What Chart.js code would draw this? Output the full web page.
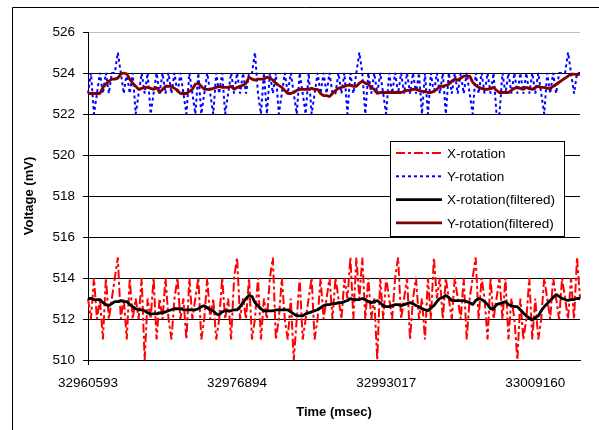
<!DOCTYPE html>
<html>
<head>
<meta charset="utf-8">
<script src="https://cdn.jsdelivr.net/npm/chart.js@4.4.1/dist/chart.umd.min.js"></script>
<style>
  html, body { margin: 0; padding: 0; background: #fff; }
  #wrap { width: 599px; height: 430px; }
</style>
</head>
<body>
<div id="wrap"><canvas id="myChart" width="599" height="430"></canvas></div>
<script>
// tick labels of the time axis (one every 50 samples)
const timeTicks = ['32960593', '32976894', '32993017', '33009160'];
const tickStep = 50;

// raw sensor readings (mV)
const xRotation = [
  513,512,514,512,513,511,514,512,513,514,
  515,512,513,511,514,512,513,512,514,510,
  513,512,514,511,513,512,514,512,511,513,
  514,512,513,511,514,512,513,514,511,512,
  514,512,513,511,512,514,512,513,511,514,
  515,512,513,512,514,511,512,514,511,513,
  512,514,515,511,512,514,512,511,513,510,
  512,514,511,512,513,514,511,512,514,512,
  513,514,512,514,513,512,514,513,515,512,
  515,513,515,512,514,512,513,510,514,512,
  514,513,512,514,515,512,513,514,511,513,
  514,512,513,511,514,512,515,513,514,512,
  514,513,512,514,513,512,514,511,513,514,
  515,512,514,513,511,514,512,513,514,512,
  514,511,513,512,510,513,511,512,514,511,
  513,511,512,514,513,512,514,513,512,514,
  513,512,514,512,515,513
];
const yRotation = [
  523,524,522,523,524,523,524,523,524,524,
  525,524,523,524,523,524,522,523,524,523,
  524,522,523,524,523,524,523,524,523,524,
  523,524,523,522,524,523,522,524,522,523,
  524,523,522,524,523,524,522,523,524,523,
  524,523,524,523,524,524,525,523,522,524,
  522,524,523,524,522,523,524,523,524,523,
  522,524,523,522,524,522,523,524,523,524,
  523,524,523,523,524,523,524,522,524,523,
  524,525,524,522,524,523,524,523,524,523,
  522,524,523,524,523,524,523,524,523,524,
  523,524,522,524,522,524,523,524,523,524,
  522,524,523,524,523,524,523,524,523,522,
  524,523,524,523,524,523,524,522,522,524,
  523,524,523,524,523,524,523,524,523,524,
  523,524,523,522,524,523,524,523,524,524,
  524,525,524,523,524,524
];
// filtered readings (mV)
const xFiltered = [
  513.0,513.0,512.95,512.95,512.95,512.8,512.7,512.65,512.75,512.85,
  512.85,512.9,512.85,512.85,512.7,512.6,512.5,512.45,512.45,512.4,
  512.3,512.25,512.25,512.25,512.3,512.3,512.35,512.4,512.45,512.5,
  512.5,512.5,512.45,512.45,512.45,512.45,512.45,512.5,512.6,512.65,
  512.55,512.45,512.4,512.25,512.2,512.35,512.4,512.4,512.4,512.45,
  512.45,512.6,512.8,513.0,513.15,513.1,512.8,512.65,512.5,512.4,
  512.4,512.4,512.4,512.45,512.45,512.45,512.45,512.45,512.35,512.25,
  512.15,512.15,512.15,512.25,512.3,512.35,512.4,512.45,512.55,512.65,
  512.7,512.7,512.75,512.75,512.8,512.8,512.85,512.9,513.0,512.95,
  512.95,512.95,513.0,512.95,512.85,512.8,512.85,512.9,512.8,512.65,
  512.6,512.6,512.65,512.7,512.7,512.65,512.7,512.75,512.8,512.75,
  512.65,512.6,512.5,512.45,512.4,512.55,512.65,512.85,513.0,513.05,
  513.15,513.05,512.9,512.9,512.9,512.9,512.9,512.85,512.8,512.7,
  512.9,513.0,512.95,512.85,512.7,512.5,512.5,512.7,512.75,512.8,
  512.85,512.7,512.65,512.6,512.6,512.45,512.3,512.15,512.05,511.95,
  512.05,512.15,512.4,512.6,512.75,512.9,513.05,513.2,513.1,513.0,
  512.95,512.9,512.95,512.95,513.0,513.0
];
const yFiltered = [
  523.0,523.0,523.0,523.0,523.0,523.3,523.45,523.6,523.7,523.7,
  523.75,523.95,524.0,523.95,523.7,523.5,523.35,523.2,523.25,523.3,
  523.3,523.25,523.2,523.3,523.05,523.2,523.35,523.35,523.35,523.25,
  523.15,523.0,523.0,523.0,523.1,523.2,523.45,523.5,523.35,523.2,
  523.2,523.2,523.25,523.3,523.35,523.3,523.3,523.3,523.35,523.2,
  523.3,523.35,523.4,523.5,523.8,523.7,523.65,523.7,523.7,523.7,
  523.8,523.75,523.65,523.5,523.4,523.3,523.15,523.0,523.0,523.05,
  523.15,523.2,523.2,523.2,523.2,523.25,523.2,523.2,523.0,522.9,
  522.9,522.85,523.0,523.15,523.25,523.3,523.35,523.4,523.4,523.35,
  523.35,523.5,523.6,523.5,523.45,523.3,523.2,523.0,523.05,523.05,
  523.05,523.05,523.05,523.05,523.05,523.05,523.1,523.15,523.15,523.2,
  523.2,523.15,523.1,523.1,523.05,523.05,523.1,523.2,523.35,523.35,
  523.4,523.45,523.6,523.7,523.65,523.75,523.85,523.85,523.85,523.55,
  523.4,523.3,523.25,523.2,523.2,523.25,523.3,523.15,523.05,523.05,
  523.05,523.05,523.15,523.25,523.3,523.25,523.2,523.3,523.25,523.2,
  523.3,523.35,523.3,523.3,523.25,523.25,523.35,523.45,523.55,523.65,
  523.75,523.85,523.95,523.95,523.9,523.95
];

const FONT = 'Arial, "Liberation Sans", sans-serif';

// category labels: time stamp every tickStep samples, blank otherwise
const labels = xRotation.map((v, i) => (i % tickStep === 0 ? timeTicks[i / tickStep] || '' : ''));

const series = [
  { label: 'X-rotation', data: xRotation, color: '#ff0000', width: 2, dash: [9, 3, 3, 3], order: 2 },
  { label: 'Y-rotation', data: yRotation, color: '#0000ff', width: 2, dash: [3, 3], order: 2 },
  { label: 'X-rotation(filtered)', data: xFiltered, color: '#000000', width: 2.8, dash: [], order: 1 },
  { label: 'Y-rotation(filtered)', data: yFiltered, color: '#800000', width: 2.8, dash: [], order: 1 }
];

// white page, thin frame at top/left like the exported picture
const framePlugin = {
  id: 'frame',
  beforeDraw(chart) {
    const c = chart.ctx;
    c.save();
    c.fillStyle = '#fff';
    c.fillRect(0, 0, chart.width, chart.height);
    c.strokeStyle = '#000';
    c.lineWidth = 1;
    c.beginPath();
    c.moveTo(12.5, chart.height);
    c.lineTo(12.5, 7.5);
    c.lineTo(chart.width, 7.5);
    c.stroke();
    c.restore();
  }
};

// boxed legend sitting inside the plot area
const boxLegend = {
  id: 'boxLegend',
  afterDraw(chart) {
    const c = chart.ctx;
    const x0 = 390, y0 = 141, w = 174, h = 95, row = 23.3;
    c.save();
    c.fillStyle = '#fff';
    c.fillRect(x0, y0, w, h);
    c.strokeStyle = '#000';
    c.lineWidth = 1;
    c.strokeRect(x0 + 0.5, y0 + 0.5, w, h);
    c.font = '13.5px ' + FONT;
    c.textBaseline = 'middle';
    c.textAlign = 'left';
    series.forEach((s, i) => {
      const y = y0 + 12 + i * row;
      c.beginPath();
      c.setLineDash(s.dash);
      c.strokeStyle = s.color;
      c.lineWidth = s.width;
      c.moveTo(x0 + 6, y);
      c.lineTo(x0 + 52, y);
      c.stroke();
      c.setLineDash([]);
      c.fillStyle = '#000';
      c.fillText(s.label, x0 + 57, y + 1);
    });
    c.restore();
  }
};

const ctx = document.getElementById('myChart');

new Chart(ctx, {
  type: 'line',
  data: {
    labels: labels,
    datasets: series.map(s => ({
      label: s.label,
      data: s.data,
      borderColor: s.color,
      borderWidth: s.width,
      borderDash: s.dash,
      borderJoinStyle: 'bevel',
      pointRadius: 0,
      tension: 0,
      fill: false,
      order: s.order
    }))
  },
  options: {
    responsive: false,
    animation: false,
    events: [],
    layout: { padding: { top: 32, right: 19, left: 0, bottom: 0 } },
    plugins: {
      legend: { display: false },
      tooltip: { enabled: false }
    },
    scales: {
      x: {
        type: 'category',
        offset: false,
        border: { display: true, color: '#000', width: 1 },
        grid: {
          drawOnChartArea: false,
          drawTicks: true,
          tickLength: 5,
          tickColor: c => (c.index % tickStep === 0 ? '#000' : 'rgba(0,0,0,0)')
        },
        ticks: {
          autoSkip: false,
          maxRotation: 0,
          minRotation: 0,
          padding: 10,
          color: '#000',
          font: { family: FONT, size: 13.5 },
          callback: function (val, i) {
            return i % tickStep === 0 ? this.getLabelForValue(val) : null;
          }
        },
        title: {
          display: true,
          text: 'Time (msec)',
          color: '#000',
          font: { family: FONT, size: 13, weight: 'bold' },
          padding: { top: 0, bottom: 10 }
        },
        afterFit: s => { s.height = 70; }
      },
      y: {
        min: 510,
        max: 526,
        border: { display: true, color: '#000', width: 1 },
        grid: {
          color: c => (c.tick && c.tick.value === 526 ? '#c0c0c0' : '#000'),
          tickColor: '#000',
          tickLength: 5,
          lineWidth: 1
        },
        ticks: {
          stepSize: 2,
          padding: 8,
          color: '#000',
          font: { family: FONT, size: 13.5 }
        },
        title: {
          display: true,
          text: 'Voltage (mV)',
          color: '#000',
          font: { family: FONT, size: 13, weight: 'bold' },
          padding: { top: 22, bottom: 0 }
        },
        afterFit: s => { s.width = 88; }
      }
    }
  },
  plugins: [framePlugin, boxLegend]
});
</script>
</body>
</html>
